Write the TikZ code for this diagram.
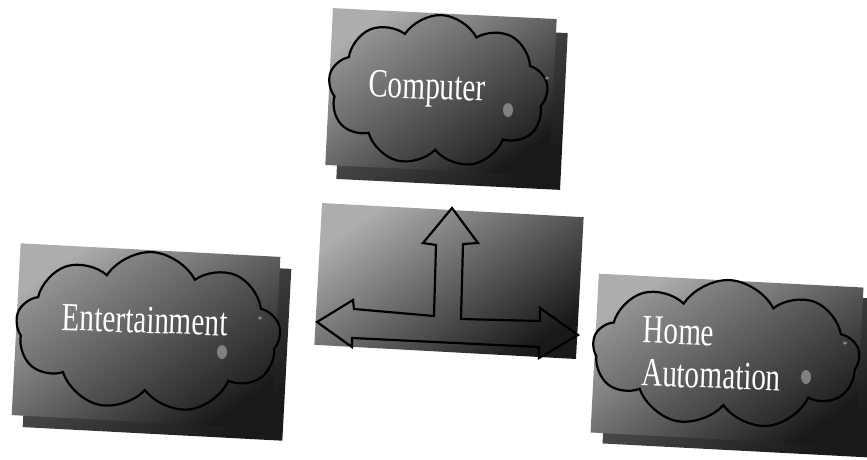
\documentclass[tikz,border=0pt]{standalone}
\usepackage{fontspec}
\setmainfont{Liberation Serif}
\newfontfamily\labelfont[FakeStretch=0.73]{Liberation Serif}
\usetikzlibrary{shapes.symbols,shapes.geometric}
\begin{document}
\begin{tikzpicture}[x=1pt,y=-1pt,
  panel/.style={rectangle, draw=none, inner sep=0pt, top color=black!32, bottom color=black!90, shading angle=35},
  backpanel/.style={rectangle, draw=none, inner sep=0pt, top color=black!60, bottom color=black!90, shading angle=35},
  puff/.style={cloud, cloud puffs=9, cloud puff arc=120, cloud ignores aspect, draw=black, line width=2.2pt, inner sep=0pt, top color=black!42, bottom color=black!86, shading angle=35},
  lbl/.style={text=white, inner sep=0pt, font=\labelfont\fontsize{40}{43}\selectfont},
  shine/.style={fill=black!50, draw=none},
  arrowline/.style={draw=black, line width=2.2pt, line join=miter}
]
\useasboundingbox (0,0) rectangle (867,459);

% ---- Computer
\node[backpanel, rotate=-2.8, minimum width=224pt, minimum height=157pt] (compback) at (452,106) {};
\node[panel, rotate=-2.8, minimum width=224pt, minimum height=157pt] (compbox) at (441,92) {};
\node[puff, rotate=-2.8, minimum width=220pt, minimum height=152pt] (compcloud) at (438,91) {};
\node[lbl, rotate=-2] (complbl) at (427,90) {Computer};
\fill[shine] (508,110) ellipse [x radius=5pt, y radius=7pt];
\fill[shine] (547,78) ellipse [x radius=2pt, y radius=1.5pt];

% ---- Entertainment
\node[backpanel, rotate=-3, minimum width=260pt, minimum height=172pt] (entback) at (157,348) {};
\node[panel, rotate=-3, minimum width=260pt, minimum height=172pt] (entbox) at (146,336) {};
\node[puff, rotate=-3, minimum width=265pt, minimum height=160pt] (entcloud) at (148,332) {};
\node[lbl, rotate=-2] (entlbl) at (145,320) {Entertainment};
\fill[shine] (222,352) ellipse [x radius=5pt, y radius=7pt];
\fill[shine] (260,318) ellipse [x radius=2pt, y radius=1.5pt];

% ---- Home Automation
\node[backpanel, rotate=-3, minimum width=265pt, minimum height=159pt] (homeback) at (739,371) {};
\node[panel, rotate=-3, minimum width=265pt, minimum height=159pt] (homebox) at (727,360) {};
\node[puff, rotate=-3, minimum width=267pt, minimum height=148pt] (homecloud) at (726,354) {};
\node[lbl, rotate=-2, align=left] (homelbl) at (712,354) {Home\\Automation};
\fill[shine] (806,377) ellipse [x radius=5pt, y radius=7pt];
\fill[shine] (845,343) ellipse [x radius=2pt, y radius=1.5pt];

% ---- Hub with T-arrow
\node[panel, rotate=-3.1, minimum width=262pt, minimum height=142pt] (hub) at (449,281) {};
\draw[arrowline]
  (452,208) -- (478,243) -- (463,244) -- (461,319) -- (540,321) -- (540,308)
  -- (578,335) -- (539,358) -- (539,347) -- (352,338) -- (352,347)
  -- (317,322) -- (353,300) -- (354,309) -- (434,316) -- (436,245)
  -- (423,243) -- cycle;
\end{tikzpicture}
\end{document}
